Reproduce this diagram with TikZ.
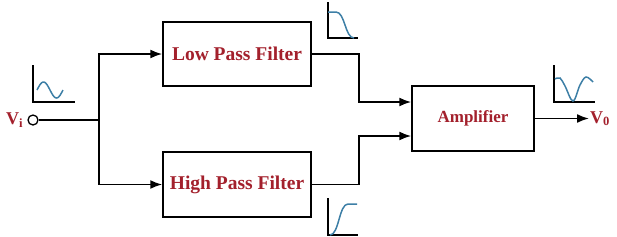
\documentclass[tikz,border=0pt]{standalone}
\usepackage{fontspec}
\setmainfont{Liberation Serif}
\usetikzlibrary{positioning,arrows.meta}
\definecolor{FilterRed}{HTML}{A3202C}
\definecolor{CurveBlue}{HTML}{3D7FA6}

\tikzset{
  block/.style={
    draw=black,
    line width=1.5pt,
    fill=white,
    inner sep=0pt,
    text=FilterRed,
    font=\bfseries\fontsize{19.5}{22}\selectfont
  },
  wire/.style={line width=1.8pt},
  arrowwire/.style={wire, -{Latex[length=12pt,width=9pt]}},
  axes/.style={line width=1.5pt},
  response/.style={CurveBlue, line width=1.5pt},
  signal/.style={text=FilterRed, font=\bfseries\fontsize{18}{20}\selectfont, inner sep=0pt}
}

\begin{document}
\begin{tikzpicture}[x=1pt,y=-1pt]
    \useasboundingbox (0,0) rectangle (617,236);

    % filter and amplifier blocks
    \node[block, minimum width=148pt, minimum height=64pt] (lpf) at (237,54) {Low Pass Filter};
    \node[block, minimum width=148pt, minimum height=65pt] (hpf) at (237,184.5) {High Pass Filter};
    \node[
      block,
      minimum width=122pt,
      minimum height=65pt,
      font=\bfseries\fontsize{17}{20}\selectfont
    ] (amp) at (473,118.5) {Amplifier};

    % input terminal
    \node[circle, draw, line width=1.3pt, minimum size=10pt, inner sep=0pt] (vi) at (33,120) {};
    \node[signal, left=4pt of vi] (vilabel) {V\textsubscript{i}};
    \coordinate (split) at (99,120);

    \draw[wire] (vi) -- (split);
    \draw[arrowwire] (split) |- (lpf.west);
    \draw[arrowwire] (split) |- (hpf.west);

    % into the amplifier
    \coordinate (ampin1) at ([yshift=16.5pt]amp.west);
    \coordinate (ampin2) at ([yshift=-17.5pt]amp.west);
    \draw[arrowwire] (lpf.east) -- ++(47,0) |- (ampin1);
    \draw[arrowwire] (hpf.east) -- ++(47,0) |- (ampin2);

    % output
    \coordinate (vo) at (589,118.5);
    \draw[arrowwire] (amp.east) -- (vo);
    \node[signal, anchor=west, right=1pt of vo] (volabel) {V\textsubscript{0}};

    % small response sketches
    \draw[axes] (33,65) -- (33,102) -- (75,102);
    \draw[response] plot[domain=0:1, smooth, samples=30] ({37+26*\x},{90-8*sin(360*\x)});

    \draw[axes] (328,2) -- (328,38) -- (358,38);
    \draw[response] (328,12) -- (336,12) .. controls (345,12) and (345,38) .. (354,38);

    \draw[axes] (328,198) -- (328,235) -- (358,235);
    \draw[response] (330,235) .. controls (339,235) and (339,204) .. (348,204) -- (357,204);

    \draw[axes] (554,65) -- (554,102) -- (595,102);
    \draw[response] plot[smooth, tension=0.6] coordinates {(555,79) (560,78) (565,86) (573,101) (580,85) (586,77) (593,82)};
\end{tikzpicture}
\end{document}
